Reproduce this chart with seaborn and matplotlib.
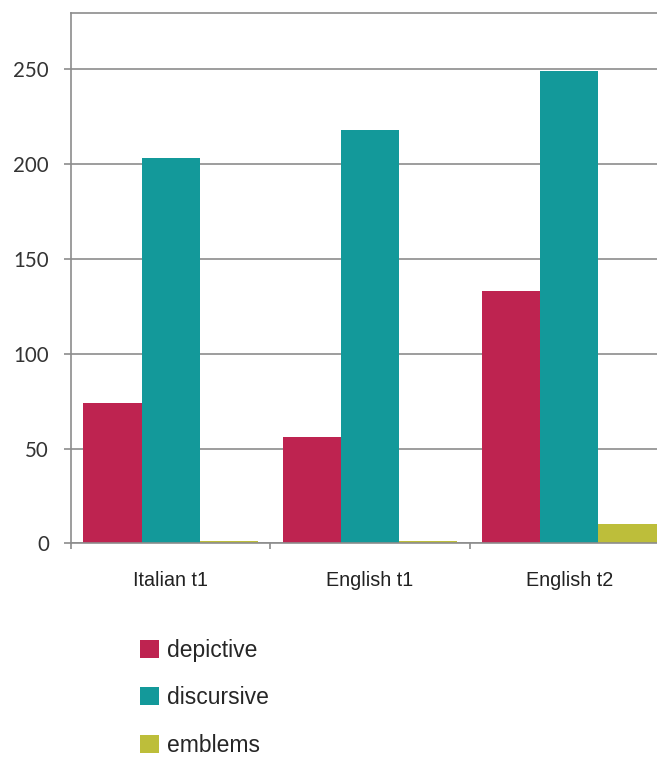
import matplotlib
matplotlib.use("Agg")
import matplotlib.pyplot as plt
from matplotlib.patches import Patch
from matplotlib.ticker import FixedLocator
import pandas as pd
import seaborn as sns

# Counts of gesture types per test group
groups = ["Italian t1", "English t1", "English t2"]
gesture_types = ["depictive", "discursive", "emblems"]
depictive = [74, 56, 133]
discursive = [203, 218, 249]
emblems = [1, 1, 10]

palette = {"depictive": "#BE2350", "discursive": "#13999A", "emblems": "#BDBE3A"}

rows = []
for g, d, s, e in zip(groups, depictive, discursive, emblems):
    rows.append({"group": g, "type": "depictive", "count": d})
    rows.append({"group": g, "type": "discursive", "count": s})
    rows.append({"group": g, "type": "emblems", "count": e})
df = pd.DataFrame(rows)

sns.set_theme(style="white")

fig = plt.figure(figsize=(6.57, 7.60), dpi=100)
W, H = 657, 760
# plot area runs a little past the right edge of the canvas
ax = fig.add_axes([71 / W, (H - 543.3) / H, 598 / W, (543.3 - 12.5) / H])

sns.barplot(data=df, x="group", y="count", hue="type", order=groups,
            hue_order=gesture_types, palette=palette, width=0.875,
            saturation=1, linewidth=0, legend=False, ax=ax)

ax.set_xlim(-0.5, 2.5)
ax.set_ylim(0, 280)
ax.set_yticks([0, 50, 100, 150, 200, 250])
ax.yaxis.grid(True, color="#8c8c8c", linewidth=1.2)
ax.set_axisbelow(True)

spine_color = "#8c8c8c"
for side in ["left", "bottom", "top"]:
    ax.spines[side].set_visible(True)
    ax.spines[side].set_color(spine_color)
    ax.spines[side].set_linewidth(1.2)
ax.spines["right"].set_visible(False)

ax.set_xlabel("")
ax.set_ylabel("")

ax.tick_params(axis="y", which="major", direction="out", length=5,
               width=1.2, color=spine_color, pad=11, left=True)
for lab in ax.get_yticklabels():
    lab.set_fontfamily("Lato")
    lab.set_fontsize(14.8)
    lab.set_color("#333333")

ax.tick_params(axis="x", which="major", length=0, pad=20)
for lab in ax.get_xticklabels():
    lab.set_fontfamily("Liberation Sans")
    lab.set_fontsize(14.2)
    lab.set_color("#222222")

ax.xaxis.set_minor_locator(FixedLocator([-0.5, 0.5, 1.5, 2.5]))
ax.tick_params(axis="x", which="minor", direction="out", length=4,
               width=1.2, color=spine_color, bottom=True)

handles = [Patch(facecolor=palette[t], edgecolor="none", label=t)
           for t in gesture_types]
fig.legend(handles=handles, loc="upper left",
           bbox_to_anchor=(140 / W, 1 - 639 / H),
           frameon=False, borderpad=0, borderaxespad=0,
           handlelength=0.83, handleheight=0.83, handletextpad=0.33,
           labelspacing=1.06,
           prop={"family": "Liberation Sans", "size": 16.5})

fig.savefig("out.png", dpi=100)
